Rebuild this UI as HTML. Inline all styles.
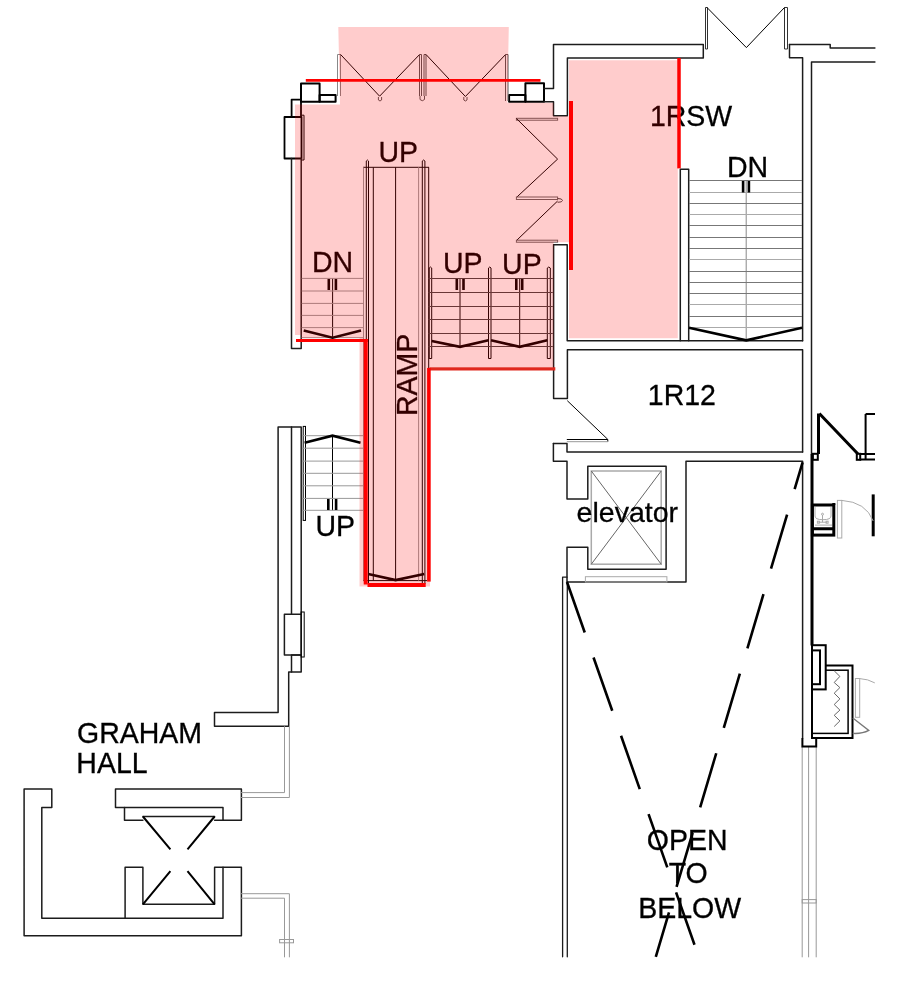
<!DOCTYPE html>
<html><head><meta charset="utf-8">
<style>
html,body{margin:0;padding:0;background:#fff;}
svg{display:block;will-change:transform;}
text{font-family:"Liberation Sans",sans-serif;font-size:28.5px;fill:#000;}
</style></head><body>
<svg width="898" height="985" viewBox="0 0 898 985">
<g fill="none" stroke="#1c1c1c" stroke-width="1.5" stroke-linejoin="round" stroke-linecap="round">
<!-- top-left corner -->
<rect x="301" y="83.5" width="18.6" height="18.3" stroke="#000" stroke-width="2"/>
<rect x="319.6" y="95" width="16" height="6.8" stroke="#000" stroke-width="2"/>
<path d="M301,99.6 L291.6,99.6 L291.6,117.2 M301,101.8 L301,117.2" stroke="#000" stroke-width="1.8"/>
<rect x="284.5" y="117" width="17" height="41.5" stroke="#000" stroke-width="1.8"/>
<path d="M291.5,158.5 L291.5,348.5 L301.2,348.5 L301.2,158.5"/>
<!-- top-right of left area -->
<rect x="525.4" y="83.3" width="18.6" height="18.4" stroke="#000" stroke-width="2"/>
<rect x="509.1" y="95" width="16.3" height="6.7" stroke="#000" stroke-width="2"/>
<path d="M544,88.4 L553.5,88.4 L553.5,44.6 L703.3,44.6 L703.3,58.1 L567.4,58.1 L567.4,115.8 L553.5,115.8 L553.5,101.7 L544,101.7"/>
<!-- right top wall -->
<path d="M789.5,44.5 L830.2,44.5 L830.2,48.1 L874.9,48.1"/>
<path d="M789.5,44.5 L789.5,57.8 L802.6,57.8 L802.6,340.8"/>
<path d="M811.5,61.9 L874.9,61.9 M811.5,61.9 L811.5,454"/>
<!-- central wall block -->
<path d="M553.6,244.8 L567.2,244.8 L567.2,340.8 L802.6,340.8"/>
<path d="M553.6,244.8 L553.6,398.5 L567.4,398.5 L567.4,349.8 L802.6,349.8 L802.6,452"/>
<!-- stair 1RSW wall -->
<path d="M680.3,340.8 L680.3,169.2 L688.7,169.2 L688.7,340.8"/>
<!-- elevator area walls -->
<path d="M553.4,443.5 L567,443.5 L567,452 L802.6,452"/>
<path d="M553.4,443.5 L553.4,461.3 L567,461.3 L567,499 L587.8,499 L587.8,466.3 L666.1,466.3 L666.1,569.2 L587.8,569.2 L587.8,547.3 L567,547.3 L567,582 L686,582 L686,461.3 L802.6,461.3 L802.6,738"/>
<path d="M562.6,956.8 L562.6,577.2 L567,577.2 M567.3,582 L567.3,956.8" stroke-width="1.3"/>
<!-- left column walls -->
<path d="M301.2,614 L301.2,427 L278.1,427 L278.1,712.5 L214.5,712.5 L214.5,726.3 L288.7,726.3 L288.7,672 L291.5,672"/>
<path d="M291.5,427 L291.5,614"/>
<rect x="284.4" y="614.2" width="16.8" height="40.7"/>
<rect x="291.5" y="654.9" width="9.7" height="17"/>
<!-- bottom left building -->
<g transform="translate(0.5,0.3)">
<path d="M23.6,788.7 L51.3,788.7 L51.3,807.1 L41.3,807.1 L41.3,917.9 L222.5,917.9 L222.5,866.9 L240.9,866.9 L240.9,935.4 L23.6,935.4 Z"/>
<path d="M124.6,917.9 L124.6,866.9 L142.4,866.9 L142.4,904 L214.1,904 L214.1,866.9 L222.5,866.9"/>
<path d="M115,788.7 L240.9,788.7 L240.9,820 L222.5,820 L222.5,807.1 L115,807.1 Z"/>
<path d="M124,807.1 L124,820 L142.4,820 M214.1,820 L222.5,820"/>
<path d="M142.4,816.2 L214.1,816.2"/></g>
</g>
<!-- thin black lines -->
<g fill="none" stroke="#000" stroke-width="1">
<path d="M301.5,115.2 L304,115.2 L304,160 L301.5,160"/>
<!-- top door -->
<path d="M705.5,49 L705.5,7.5 L707.5,7.5 L707.5,49 Z" stroke="#333"/>
<path d="M784.5,49 L784.5,7.5 L787.5,7.5 L787.5,49 Z" stroke="#333"/>
<path d="M707,7.5 L746.4,47.6 L784.5,7.5"/>
<!-- folding doors top -->
<path d="M337.5,96 L337.5,54.5 L340.5,54.5 L340.5,96" stroke="#888"/>
<path d="M340.6,54.5 L379.6,96.2 L419.6,54.5"/>
<path d="M378.4,97 L378.4,100 Q380,102 381.6,100 L381.6,97" stroke="#555"/>
<path d="M419.5,96 L419.5,54.5 L421.5,54.5 L421.5,96 M424,96 L424,54.5 L426,54.5 L426,96" stroke="#555"/>
<path d="M420,96 L420,99.5 Q422.3,102 424.5,99.5 L424.5,96" stroke="#555"/>
<path d="M426,54.5 L465.4,96.5 L505.6,54.5"/>
<path d="M463.8,97 L463.8,100 Q465.4,102 467,100 L467,97" stroke="#555"/>
<path d="M505.5,101 L505.5,54.5 L508,54.5 L508,101" stroke="#555"/>
<!-- folding door right -->
<rect x="516.4" y="118.3" width="41.2" height="1.9" stroke="#666"/>
<path d="M516.4,118.5 L557.6,159.1 L516.4,197.5"/>
<rect x="516.4" y="197" width="41.2" height="2.5" stroke="#666"/>
<path d="M557.6,198.5 Q562.5,198.5 562.5,200.5 Q562.5,202.3 557.6,202.3" stroke="#444"/>
<path d="M557.6,201 L516.4,240.6"/>
<rect x="516.4" y="240.2" width="41.2" height="2" stroke="#666"/>
<!-- ramp -->
<path d="M373.3,167.3 L373.3,580.6 M395.6,167.3 L395.6,580.6 M428.7,167.3 L428.7,580.6 M363,167.3 L429,167.3 M363,580.6 L427,580.6"/>
<path d="M366.3,584 L366.3,161 Q367.4,159 368.5,161 L368.5,584"/>
<path d="M422.3,584 L422.3,161 Q423.6,159 424.9,161 L424.9,584"/>
<!-- left DN stair center -->
<path d="M332.6,278.4 L332.6,337.7"/>
<!-- UP stairs -->
<path d="M460,278.6 L460,346.8 M519.7,278.6 L519.7,346.8"/>
<path d="M429.2,358.5 L429.2,268 Q430.45,266 431.7,268 L431.7,358.5 Z"/>
<path d="M488.5,358.5 L488.5,268 Q489.75,266 491,268 L491,358.5 Z"/>
<path d="M547.3,358.5 L547.3,268 Q548.8,266 550.3,268 L550.3,358.5 Z"/>
<!-- door at 1R12 -->
<path d="M567.3,400.7 L607.8,439.4"/>
<path d="M566.8,439.5 L607.8,439.5 L607.8,441.7"/><path d="M566.8,441.7 L607.8,441.7" stroke="#999"/>
<!-- lower left stair -->
<rect x="303.2" y="426.4" width="2.3" height="94"/>
<path d="M332.5,435.7 L332.5,510.3"/>
<rect x="301.1" y="612" width="3.1" height="45"/>
<!-- stair right center -->
<path d="M746.2,180.4 L746.2,340.3" stroke="#888"/>
<!-- bottom-left hourglass -->
<path transform="translate(0.5,0.3)" d="M142.4,816.2 L169.9,849.1 M214.1,816.2 L187,849.1 M169.9,870.8 L142.4,904 M187,870.8 L214.1,904" stroke-width="2"/>
</g>
<!-- gray lines -->
<g fill="none" stroke="#999" stroke-width="1">
<path d="M363.5,167.3 L363.5,580.6 M418.6,167.3 L418.6,580.6"/>
<!-- left DN treads -->
<path d="M301.7,278.4 L363.5,278.4 M301.7,291 L363.5,291 M301.7,303.4 L363.5,303.4 M301.7,315.4 L363.5,315.4 M301.7,327.6 L363.5,327.6 M301.7,337.7 L363.5,337.7"/>
<!-- UP treads -->
<path d="M428.4,278.5 L552.8,278.5 M428.4,292.5 L552.8,292.5 M428.4,306.5 L552.8,306.5 M428.4,319.5 L552.8,319.5 M428.4,333.5 L552.8,333.5 M428.4,346.5 L552.8,346.5" stroke="#444"/>
<!-- right DN treads -->
<path d="M689,180.5 L802,180.5 M689,203.5 L802,203.5 M689,225.5 L802,225.5 M689,237.5 L802,237.5 M689,248.5 L802,248.5 M689,271.5 L802,271.5 M689,282.5 L802,282.5 M689,293.5 L802,293.5 M689,316.5 L802,316.5" stroke="#777"/>
<path d="M689,192.5 L802,192.5 M689,214.5 L802,214.5 M689,259.5 L802,259.5 M689,304.5 L802,304.5 M689,327.5 L802,327.5" stroke="#aaa"/>
<!-- lower-left UP treads -->
<path d="M302,435.7 L363.4,435.7 M302,448.2 L363.4,448.2 M302,461.1 L363.4,461.1 M302,473.3 L363.4,473.3 M302,485.8 L363.4,485.8 M302,498.4 L363.4,498.4 M302,510.3 L363.4,510.3"/>
<!-- elevator -->
<rect x="591.3" y="471" width="69.9" height="93.2" stroke="#aaa" stroke-width="1.5"/>
<path d="M591.3,471 L661.2,564.2 M661.2,471 L591.3,564.2" stroke="#666"/>
<rect x="585.4" y="576.7" width="81.5" height="5.3" stroke="#aaa"/>
<!-- window lines right -->
<path d="M802.2,746.6 L802.2,957.3 M808.6,746.6 L808.6,957.3 M816.2,746.6 L816.2,957.3"/>
<rect x="802.2" y="899.6" width="14" height="3.4"/>
<!-- rails bottom-left -->
<path d="M284.5,726.3 L284.5,792.6 L240.9,792.6 M289.4,726.3 L289.4,797.5 L240.9,797.5"/>
<path d="M240.9,893.7 L289.4,893.7 L289.4,957.3 M240.9,898.2 L284.5,898.2 L284.5,957.3"/>
<rect x="279.6" y="939.5" width="13.9" height="3.3"/>
</g>
<!-- thick chevrons / marks -->
<g fill="none" stroke="#000" stroke-width="2.6">
<path d="M303.7,330.6 L332.6,337.7 L361,330.6"/>
<path d="M431.7,341 L460,346.8 L488.5,340.2 M491,340.2 L519.7,346.8 L547.3,340.2"/>
<path d="M689,327.8 L746.2,340.3 L802,327.8"/>
<path d="M304.6,442.8 L332.5,435.7 L360.5,442.8"/>
<path d="M368.2,574.1 L395.6,580.1 L424.2,574.1"/>
<path d="M328.8,279 L328.8,290 M335.9,279 L335.9,290"/>
<path d="M456.8,279 L456.8,290 M463.5,279 L463.5,290 M516.3,279 L516.3,290 M522.2,279 L522.2,290"/>
<path d="M743.1,181 L743.1,192.4 M748.9,181 L748.9,192.4"/>
<path d="M328.3,499 L328.3,510 M336.1,499 L336.1,510"/>
</g>
<!-- dashed open-to-below -->
<g fill="none" stroke="#000" stroke-width="2.6" stroke-dasharray="56.5 26.5">
<path d="M567,582 L694.5,944.8" stroke-dashoffset="3"/>
<path d="M802.6,462.3 L655.8,956.9" stroke-dashoffset="28.5"/>
</g>
<!-- right-side details -->
<g fill="none" stroke="#000" stroke-width="3">
<path d="M812,454 L812,645.5"/>
<path d="M818.5,413.5 L818.5,454 M819.3,413.5 L858,454"/>
<rect x="812.4" y="505" width="21.4" height="30.1"/>
<path d="M812.4,528.8 L833.8,528.8 M833.8,503 L833.8,505"/>
<path d="M873.2,494.4 L873.2,536.3"/>
</g>
<g fill="none" stroke="#000" stroke-width="2">
<path d="M812,689.4 L812,738 L852.5,738 L852.5,665.5 L825.7,665.5"/>
<rect x="812" y="670.2" width="36.1" height="63.2" stroke-width="1.5"/>
<rect x="812" y="645.2" width="13.7" height="44.2" fill="#fff"/>
<rect x="812" y="650.4" width="8" height="33.8"/>
<path d="M802.4,738 L802.4,746.6 L816.2,746.6 L816.2,738"/>
<path d="M865.6,414 L865.6,459.8 M865.6,414 L875,414 M859.6,454 L875,454 M859.6,459.6 L875,459.6"/>
<rect x="812.8" y="453.8" width="5" height="6"/>
<rect x="856.8" y="453.8" width="3.4" height="6"/>
</g>
<g fill="none" stroke="#aaa" stroke-width="1">
<path d="M834.2,670.8 L839.9,676.4 L834.2,682.5 L839.9,687.6 L834.2,693.2 L839.9,698.9 L834.2,704.5 L839.9,710.1 L834.2,715.3 L839.9,720.9 L834.2,726.5" stroke="#666"/>
<rect x="855.4" y="678.5" width="4.3" height="38.8"/>
<path d="M859.7,678.6 Q868,679 874.8,682.9"/><path d="M852.8,717.9 L868.8,730.4 Q862,734 852.8,733.4" stroke="#777" stroke-width="1.3"/>
<rect x="837.4" y="500.4" width="4.4" height="37.6"/>
<path d="M841.8,500.4 Q866,502 873.2,521"/>
<path d="M815,507 L815,516 Q815,519.7 823,519.7 Q831,519.7 831,516 L831,507 M815,525.1 L832,525.1"/><circle cx="822.5" cy="514.2" r="1"/><path d="M822.5,515 L822.5,522.2 M818.4,522.2 L827.1,522.2"/><rect x="817.4" y="521.2" width="2" height="2"/><rect x="826.1" y="521.2" width="2" height="2"/>
</g>
<!-- text -->
<g class="txt" stroke="#000" stroke-width="0.3">
<text transform="matrix(1 0 0 1.06 378.50 162.30)">UP</text>
<text transform="matrix(1 0 0 1.06 311.90 271.55)">DN</text>
<text transform="matrix(1 0 0 1.06 442.95 272.70)">UP</text>
<text transform="matrix(1 0 0 1.06 502.10 273.70)">UP</text>
<text transform="matrix(1 0 0 1.06 649.90 125.80)">1RSW</text>
<text transform="matrix(1 0 0 1.06 726.90 176.90)">DN</text>
<text transform="matrix(1 0 0 1.06 647.85 405.25)">1R12</text>
<text transform="matrix(1 0 0 1.0 576.60 522.30)">elevator</text>
<text transform="matrix(1 0 0 1.06 315.45 536.20)">UP</text>
<text transform="matrix(1 0 0 1.06 77.05 742.60)">GRAHAM</text>
<text transform="matrix(1 0 0 1.06 76.30 773.20)">HALL</text>
<text transform="matrix(1 0 0 1.06 646.80 849.70)">OPEN</text>
<text transform="matrix(1 0 0 1.06 668.70 883.10)">TO</text>
<text transform="matrix(1 0 0 1.06 638.15 918.30)">BELOW</text>
<text transform="translate(417.3,416) rotate(-90) scale(1,1.06)">RAMP</text>
</g>
<!-- pink overlay -->
<path fill="rgba(255,0,0,0.2)" d="M338.3,27 L508.8,27 L507.3,102.8 L553.5,102.8 L553.5,116.2 L569,116.2 L569,60.2 L677.8,60.2 L677.8,338.3 L569,338.3 L569,242.3 L553.6,242.3 L553.6,367 L430,367 L430,586.6 L359.5,586.6 L359.5,338 L301,338 L301,335 L295,335 L295,104.6 L340,104.6 Z"/>
<!-- red lines -->
<g fill="none" stroke="#f00" stroke-width="4">
<path d="M305.8,80.4 L540.5,80.4" stroke-width="2.8"/>
<path d="M571,101 L571,270"/>
<path d="M679,58 L679,168.4" stroke-width="3.5"/>
<path d="M296,340.5 L367.7,340.5" stroke-width="3"/><path d="M365.7,339 L365.7,584.6"/>
<path d="M429.6,368.8 L555.3,368.8" stroke="#e0281e" stroke-width="3.2"/><path d="M428.9,367.9 L428.9,581.6" stroke-width="3.6"/>
<path d="M367.5,585 L425.7,585"/>
</g>
</svg>
</body></html>
